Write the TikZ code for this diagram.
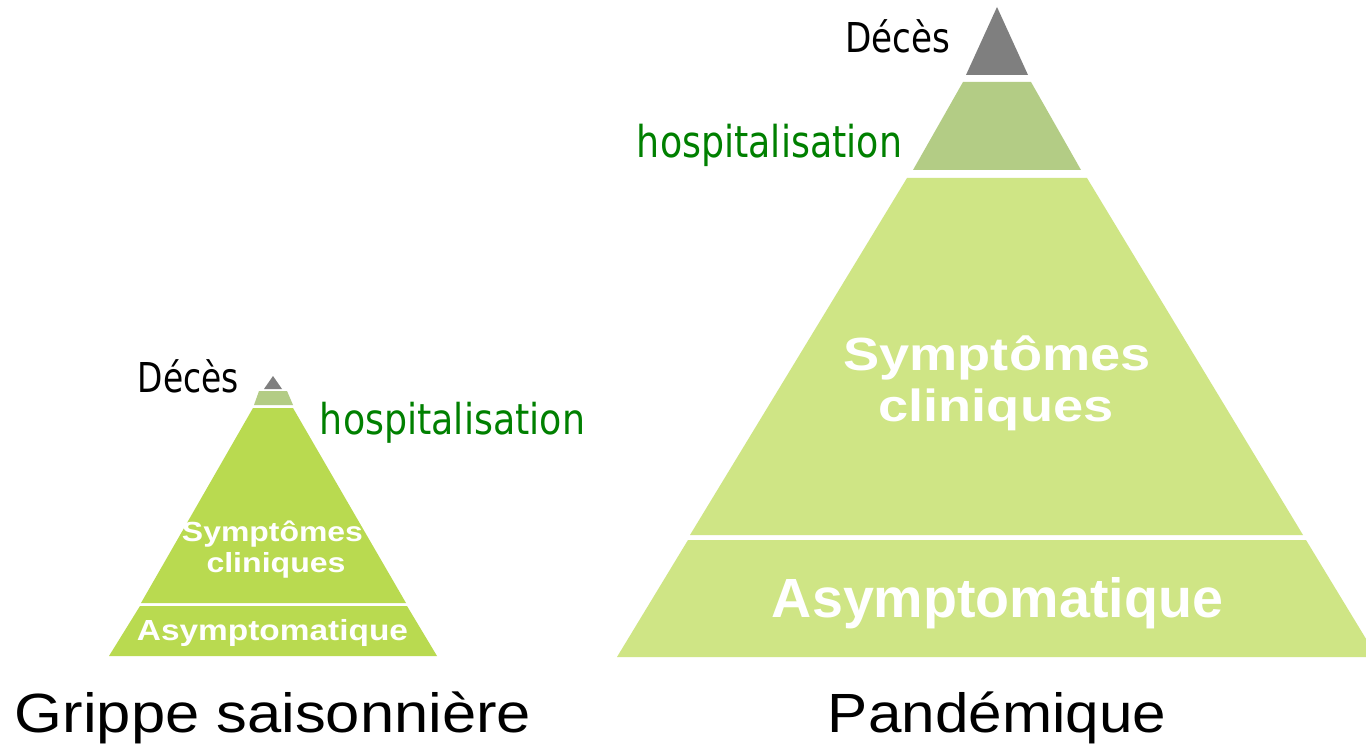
\documentclass[tikz,border=0pt]{standalone}
\usepackage{fontspec}
\setmainfont{Liberation Sans}
\newfontfamily\tahomalike{DejaVu Sans}
\usepackage{graphicx}
\newcommand\fitxt[3]{\resizebox{#1}{#2}{\smash{#3}\vphantom{X}}}
\definecolor{topgray}{HTML}{7F7F7F}
\definecolor{hospgreen}{HTML}{B3CC85}
\definecolor{biglayer}{HTML}{CFE585}
\definecolor{smalllayer}{HTML}{B9DA50}
\definecolor{labelgreen}{HTML}{008000}
\begin{document}
\begin{tikzpicture}[x=1pt,y=-1pt,
  txt/.style={inner sep=0pt, outer sep=0pt, anchor=base},
  regtxt/.style={txt, text=black, font=\tahomalike},
  hosptxt/.style={txt, text=labelgreen, font=\tahomalike},
  titletxt/.style={txt, text=black, font=\rmfamily},
  boldtxt/.style={txt, text=white, font=\bfseries}]
\useasboundingbox (0,0) rectangle (1366,754);
\clip (0,0) rectangle (1366,754);
\fill[white] (0,0) rectangle (1366,754);

% ---- small pyramid (Grippe saisonniere)
\fill[topgray]    (273,376) -- (282,389) -- (264,389) -- cycle;
\fill[hospgreen]  (259,391) -- (287,391) -- (293,405) -- (254,405) -- cycle;
\fill[smalllayer] (253,408) -- (293,408) -- (406,603) -- (141,603) -- cycle;
\fill[smalllayer] (140,606) -- (407,606) -- (437,656) -- (109,656) -- cycle;

% ---- big pyramid (Pandemique)
\fill[topgray]   (997,7) -- (1028,75) -- (966,75) -- cycle;
\fill[hospgreen] (963,82) -- (1031,82) -- (1081,170) -- (913,170) -- cycle;
\fill[biglayer]  (907,178) -- (1087,178) -- (1303,535) -- (690,535) -- cycle;
\fill[biglayer]  (688,540) -- (1306,540) -- (1377,657) -- (617,657) -- cycle;

% ---- labels, small pyramid
\node[regtxt]  (sdeces) at (188.5,392) {\fitxt{101pt}{30pt}{Décès}};
\node[hosptxt] (shosp)  at (452.5,434) {\fitxt{265pt}{31pt}{hospitalisation}};
\node[boldtxt] (ssymp1) at (272.5,541) {\fitxt{181pt}{19pt}{Symptômes}};
\node[boldtxt] (ssymp2) at (276,572)   {\fitxt{139pt}{19pt}{cliniques}};
\node[boldtxt] (sasym)  at (272.5,640) {\fitxt{271pt}{20pt}{Asymptomatique}};
\node[titletxt] (stitle) at (273,732)  {\fitxt{516pt}{38pt}{Grippe saisonnière}};

% ---- labels, big pyramid
\node[regtxt]  (bdeces) at (897.5,53)  {\fitxt{105pt}{30pt}{Décès}};
\node[hosptxt] (bhosp)  at (769.5,158) {\fitxt{265pt}{32pt}{hospitalisation}};
\node[boldtxt] (bsymp1) at (997,370)   {\fitxt{307pt}{32pt}{Symptômes}};
\node[boldtxt] (bsymp2) at (996,421)   {\fitxt{235pt}{31pt}{cliniques}};
\node[boldtxt] (basym)  at (997.5,617) {\fitxt{451pt}{38pt}{Asymptomatique}};
\node[titletxt] (btitle) at (997,732)  {\fitxt{338pt}{38pt}{Pandémique}};
\end{tikzpicture}
\end{document}
